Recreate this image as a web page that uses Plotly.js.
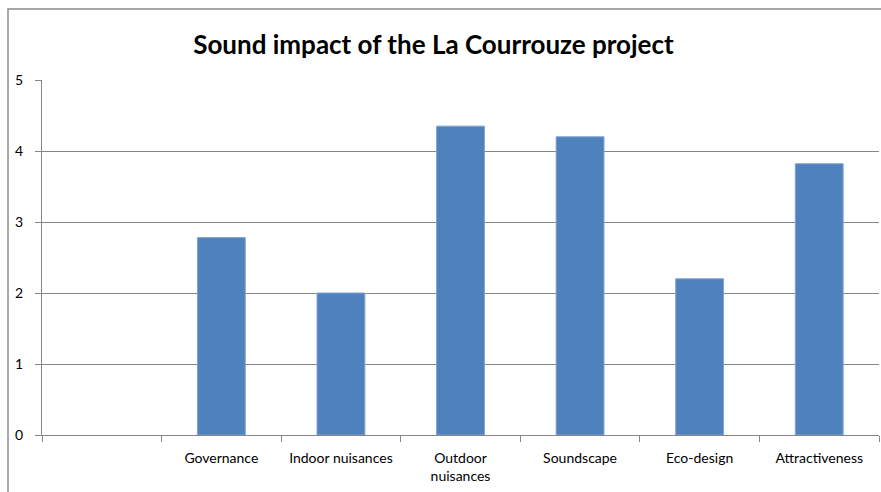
<!DOCTYPE html>
<html>
<head>
<meta charset="utf-8">
<script src="https://cdn.plot.ly/plotly-3.0.1.min.js"></script>
<style>html,body{margin:0;padding:0;background:#fff;}#chart{width:881px;height:492px;}</style>
</head>
<body>
<div id="chart"></div>
<script>
var categories = [" ", "Governance", "Indoor nuisances", "Outdoor<br>nuisances", "Soundscape", "Eco-design", "Attractiveness"];
var values = [null, 2.78, 2.0, 4.35, 4.2, 2.2, 3.82];
var yTicks = [0, 1, 2, 3, 4, 5];

var trace = {
  type: "bar",
  x: categories,
  y: values,
  marker: {color: "#4F81BD", line: {color: "#7FA3D3", width: 1}},
  hoverinfo: "x+y"
};

var layout = {
  width: 881, height: 492,
  margin: {l: 42, r: 2, t: 80, b: 57, pad: 0},
  paper_bgcolor: "#ffffff", plot_bgcolor: "#ffffff",
  showlegend: false,
  bargap: 0.6,
  font: {family: "Lato, 'Open Sans', sans-serif", color: "#000000", size: 14},
  title: {text: "<b>Sound impact of the La Courrouze project</b>", x: 0.492, xanchor: "center", y: 0.908, yanchor: "middle",
          font: {family: "Lato, 'Open Sans', sans-serif", size: 26, color: "#000000"}},
  xaxis: {
    type: "category",
    tickson: "boundaries",
    ticks: "outside", ticklen: 6, tickcolor: "#868686", tickwidth: 1,
    showline: true, linecolor: "#868686", linewidth: 1,
    showgrid: false, zeroline: false,
    tickfont: {size: 14, color: "#000000"},
    ticklabelstandoff: 10,
    fixedrange: true
  },
  yaxis: {
    range: [0, 5],
    tickvals: yTicks,
    ticks: "outside", ticklen: 6, tickcolor: "#868686",
    showline: true, linecolor: "#868686", linewidth: 1,
    showgrid: true, gridcolor: "#868686", gridwidth: 1,
    zeroline: false,
    tickfont: {size: 14, color: "#000000"},
    ticklabelstandoff: 9,
    fixedrange: true
  },
  shapes: [{
    type: "rect", xref: "paper", yref: "paper",
    x0: (8 - 42) / 837, x1: 1.2, y0: -0.5, y1: 1 + (80 - 9) / 355,
    line: {color: "#8c8c8c", width: 1.5}, fillcolor: "rgba(0,0,0,0)", layer: "below"
  }]
};

Plotly.newPlot("chart", [trace], layout, {displayModeBar: false, staticPlot: true});
</script>
</body>
</html>
